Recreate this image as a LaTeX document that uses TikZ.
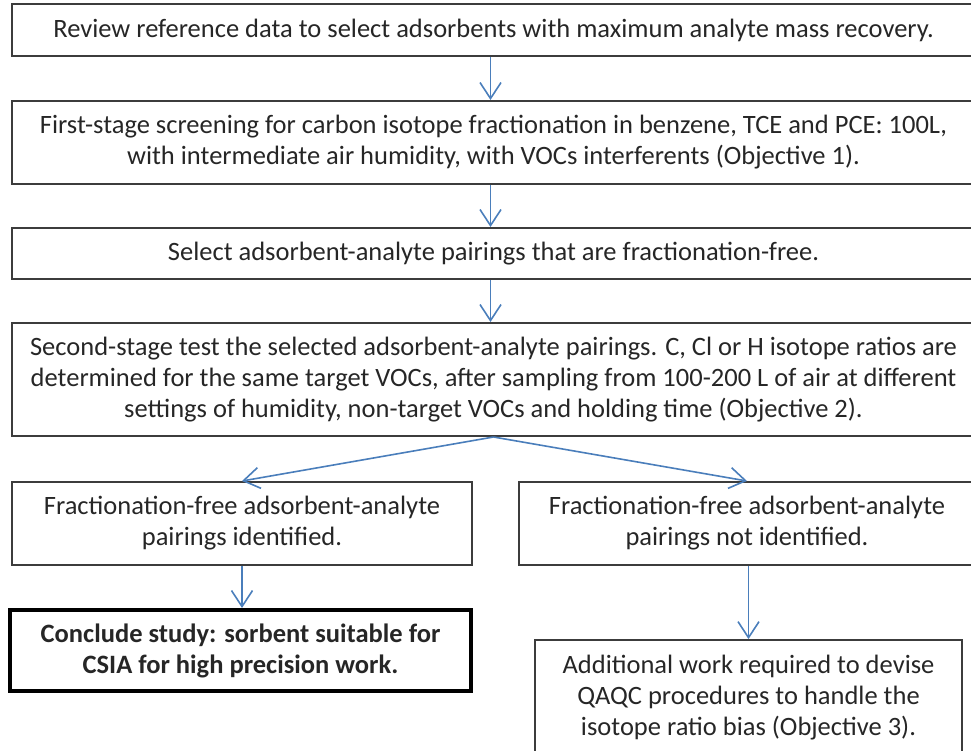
\documentclass[tikz,border=0pt]{standalone}
\usepackage{fontspec}
\setmainfont{Carlito}
\usetikzlibrary{arrows.meta}
\definecolor{edge}{HTML}{3C3C3C}
\definecolor{flow}{HTML}{4A7EBB}
\definecolor{ink}{HTML}{262626}
\begin{document}
\begin{tikzpicture}[x=1pt,y=-1pt,
  box/.style={draw=edge, line width=2pt, align=center, inner sep=0pt,
    font=\fontsize{26.5}{31}\selectfont, text=ink},
  finalbox/.style={box, draw=black, line width=4pt, font=\fontsize{26.5}{31}\selectfont\bfseries},
  flowarrow/.style={draw=flow, line width=1.6pt,
    -{Straight Barb[length=16pt,width=21pt]}},
]
\clip (0,0) rectangle (971,751);

\node[box, minimum width=963, minimum height=52] (b1) at (493.5,30)
  {Review reference data to select adsorbents with maximum analyte mass recovery.};
\node[box, minimum width=963, minimum height=83] (b2) at (493.5,142.5)
  {First-stage screening for carbon isotope fractionation in benzene, TCE and PCE: 100L,\\
   with intermediate air humidity, with VOCs interferents (Objective 1).};
\node[box, minimum width=963, minimum height=51] (b3) at (493.5,253.5)
  {Select adsorbent-analyte pairings that are fractionation-free.};
\node[box, minimum width=963, minimum height=113] (b4) at (493.5,379.5)
  {Second-stage test the selected adsorbent-analyte pairings. C, Cl or H isotope ratios are\\
   determined for the same target VOCs, after sampling from 100-200 L of air at different\\
   settings of humidity, non-target VOCs and holding time (Objective 2).};
\node[box, minimum width=460, minimum height=83] (b5) at (242,523.5)
  {Fractionation-free adsorbent-analyte\\ pairings identified.};
\node[box, minimum width=456, minimum height=83] (b6) at (747,523.5)
  {Fractionation-free adsorbent-analyte\\ pairings not identified.};
\node[finalbox, minimum width=461, minimum height=81] (b7) at (240.5,650.5)
  {Conclude study: sorbent suitable for\\ CSIA for high precision work.};
\node[box, line width=1.8pt, minimum width=427, minimum height=116] (b8) at (748.5,698)
  {Additional work required to devise\\ QAQC procedures to handle the\\ isotope ratio bias (Objective 3).};

\draw[flowarrow] ([xshift=-3pt]b1.south) -- ([xshift=-3pt]b2.north);
\draw[flowarrow] ([xshift=-3pt]b2.south) -- ([xshift=-3pt]b3.north);
\draw[flowarrow] ([xshift=-3pt]b3.south) -- ([xshift=-3pt]b4.north);
\draw[flowarrow] (b4.south) -- (b5.north);
\draw[flowarrow] (b4.south) -- (b6.north);
\draw[flowarrow] (b5.south) -- (b5.south |- b7.north);
\draw[flowarrow] (b8.north |- b6.south) -- (b8.north);
\end{tikzpicture}
\end{document}
